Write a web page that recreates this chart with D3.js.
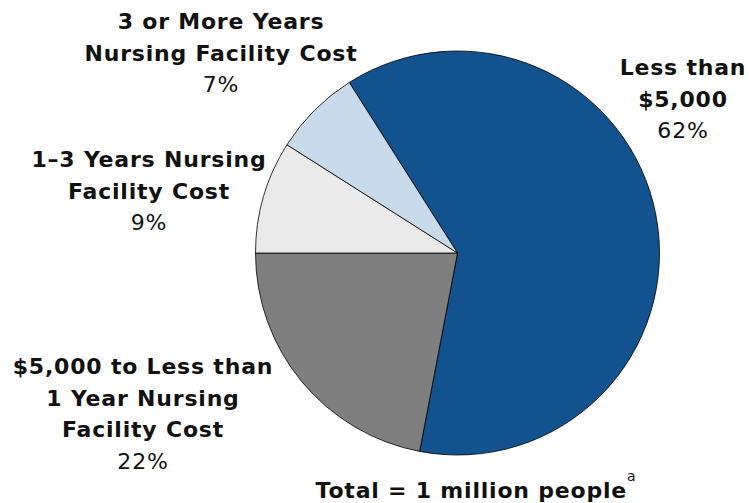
<!DOCTYPE html>
<html><head><meta charset="utf-8">
<script src="https://cdn.jsdelivr.net/npm/d3@7"></script>
<style>body{margin:0;background:#fff}svg{display:block}text{font-family:"DejaVu Sans",sans-serif;font-size:22px;letter-spacing:0.8px;fill:#111}</style>
</head><body>
<svg id="c" width="749" height="503"></svg>
<script>
const categories = ["Less than $5,000", "$5,000 to Less than 1 Year Nursing Facility Cost", "1-3 Years Nursing Facility Cost", "3 or More Years Nursing Facility Cost"];
const values = [62, 22, 9, 7];
const colors = ["#11528f", "#7f7f7f", "#eaeaea", "#c9daea"];
const labelLines = [["Less than", "$5,000"], ["$5,000 to Less than", "1 Year Nursing", "Facility Cost"], ["1\u20133 Years Nursing", "Facility Cost"], ["3 or More Years", "Nursing Facility Cost"]];
const pctLabels = ["62%", "22%", "9%", "7%"];
const labelPos = [[683, 75], [143, 374], [149, 167], [221, 29]];

const svg = d3.select("#c");
const cx = 457.5, cy = 253, r = 202;
const pie = d3.pie().sort(null).value(d => d).startAngle(-32.4 * Math.PI / 180).endAngle((360 - 32.4) * Math.PI / 180);
const arc = d3.arc().innerRadius(0).outerRadius(r);
const g = svg.append("g").attr("transform", `translate(${cx},${cy})`);
g.selectAll("path").data(pie(values)).join("path")
  .attr("d", arc).attr("fill", (d, i) => colors[i])
  .attr("stroke", "#000").attr("stroke-width", 0.8);

const lh = 31.5;
labelLines.forEach((lines, i) => {
  const [x, y] = labelPos[i];
  const t = svg.append("text").attr("text-anchor", "middle");
  lines.forEach((l, j) => t.append("tspan").attr("x", x).attr("y", y + j * lh).attr("font-weight", "bold").text(l));
  t.append("tspan").attr("x", x).attr("y", y + lines.length * lh).text(pctLabels[i]);
});
const tot = svg.append("text").attr("x", 476).attr("y", 498).attr("text-anchor", "middle").attr("font-weight", "bold");
tot.append("tspan").text("Total = 1 million people");
tot.append("tspan").attr("font-size", 14).attr("font-weight", "normal").attr("dx", 0).attr("dy", -17).text("a");
</script>
</body></html>
